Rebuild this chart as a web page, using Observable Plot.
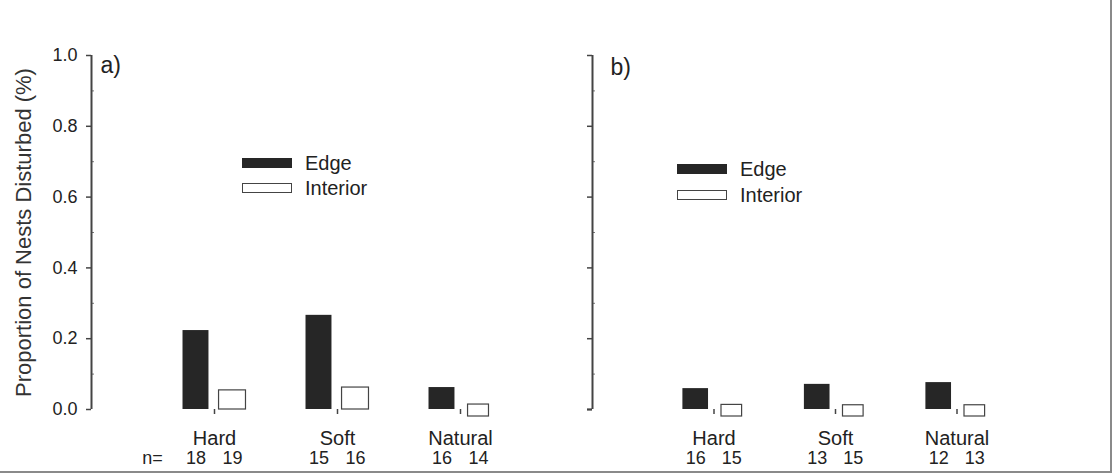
<!DOCTYPE html>
<html>
<head>
<meta charset="utf-8">
<script src="https://cdn.jsdelivr.net/npm/d3@7"></script>
<script src="https://cdn.jsdelivr.net/npm/@observablehq/plot@0.6"></script>
<style>
  body { margin: 0; background: #fff; font-family: Arial, "Liberation Sans", sans-serif; }
  #chart { position: relative; width: 1112px; height: 476px; overflow: hidden; background: #fff; }
  .panel { position: absolute; top: 0; }
  .swatch { position: absolute; width: 50px; height: 10px; box-sizing: border-box; }
  .swatch.edge { background: #262626; }
  .swatch.interior { background: #fff; border: 1px solid #444; }
  .key { position: absolute; font-size: 20px; color: #222; line-height: 20px; }
  .edge-line { position: absolute; background: #8a8a8a; }
</style>
</head>
<body>
<div id="chart"></div>
<script>
// Nest-disturbance proportions by nest site type, edge vs. interior plots
const sites = ["Hard", "Soft", "Natural"];

// a) first survey
const edgeA = [0.223, 0.266, 0.062];
const interiorA = [0.054, 0.062, 0.014];
const nEdgeA = [18, 15, 16];
const nInteriorA = [19, 16, 14];

// b) second survey
const edgeB = [0.059, 0.071, 0.076];
const interiorB = [0.013, 0.012, 0.012];
const nEdgeB = [16, 13, 12];
const nInteriorB = [15, 15, 13];

const yTicks = [0, 0.2, 0.4, 0.6, 0.8, 1.0];
const yMinor = [0.1, 0.3, 0.5, 0.7, 0.9];

const ink = "#222";
const axisInk = "#444";

function rows(values, counts, kind) {
  return values.map((v, i) => ({site: sites[i], pos: i + 1, value: v, n: counts[i], kind}));
}

// Bar placement within each site group (in x units, one unit per group)
const EDGE = [-0.256, -0.045];
const INTERIOR = [0.037, 0.256];
const center = d => d.pos + (d.kind === "Edge" ? (EDGE[0] + EDGE[1]) / 2 : (INTERIOR[0] + INTERIOR[1]) / 2);

function panel({edge, interior, tag, tagDx, tagDy, yLabels, width, marginLeft, marginRight, baseExtend}) {
  const all = edge.concat(interior);
  const small = interior.filter(d => d.value < 0.02);
  const regular = interior.filter(d => d.value >= 0.02);
  const marks = [
    Plot.axisY({
      ticks: yTicks,
      tickFormat: yLabels ? d3.format(".1f") : () => "",
      tickSize: 5, tickPadding: 9, fontSize: 18, stroke: axisInk, strokeWidth: 1.5, label: null
    }),
    // minor ticks on the inside of the axis
    Plot.ruleY(yMinor, {x1: 0, x2: 0, insetRight: -3, stroke: "#777", strokeWidth: 1}),
    Plot.axisX({
      ticks: [1, 2, 3],
      tickFormat: i => sites[i - 1],
      tickSize: 5, tickPadding: 16, fontSize: 20, stroke: axisInk, strokeWidth: 1.5, label: null
    }),
    Plot.ruleX([0], {stroke: axisInk, strokeWidth: 2}),
    Plot.ruleY([0], {x1: 0, insetLeft: -baseExtend, stroke: axisInk, strokeWidth: 2}),
    Plot.rectY(edge, {x1: d => d.pos + EDGE[0], x2: d => d.pos + EDGE[1], y: "value", fill: "#262626"}),
    Plot.rectY(regular, {x1: d => d.pos + INTERIOR[0], x2: d => d.pos + INTERIOR[1], y: "value",
      fill: "#fff", stroke: axisInk, strokeWidth: 1.2}),
    // near-zero proportions drawn as a flat box straddling the axis so they stay visible
    Plot.rectY(small, {x1: d => d.pos + INTERIOR[0], x2: d => d.pos + INTERIOR[1], y: "value",
      insetBottom: -7, insetLeft: 3, insetRight: 3, fill: "#fff", stroke: axisInk, strokeWidth: 1.2}),
    // sample sizes under each bar
    Plot.text(all, {x: center, text: d => String(d.n), frameAnchor: "bottom", dy: 49,
      lineAnchor: "middle", fontSize: 18, fill: ink}),
    Plot.text([tag], {frameAnchor: "top-left", dx: tagDx, dy: tagDy, lineAnchor: "top",
      textAnchor: "start", fontSize: 23, fill: ink})
  ];
  if (yLabels) {
    marks.push(
      Plot.text(["Proportion of Nests Disturbed (%)"], {frameAnchor: "left", rotate: -90, dx: -68,
        textAnchor: "middle", lineAnchor: "middle", fontSize: 22, fill: "#333"}),
      Plot.text(["n="], {frameAnchor: "bottom-left", dx: 61, dy: 49, lineAnchor: "middle",
        textAnchor: "middle", fontSize: 18, fill: ink})
    );
  }
  return Plot.plot({
    width, height: 476,
    marginLeft, marginRight, marginTop: 55, marginBottom: 67,
    x: {domain: [0, 4], axis: null, label: null},
    y: {domain: [0, 1], axis: null, label: null},
    style: {fontFamily: "Arial, 'Liberation Sans', sans-serif", color: ink, background: "transparent", overflow: "visible"},
    marks
  });
}

const chart = document.getElementById("chart");

const a = panel({
  edge: rows(edgeA, nEdgeA, "Edge"),
  interior: rows(interiorA, nInteriorA, "Interior"),
  tag: "a)", tagDx: 9, tagDy: 1, yLabels: true,
  width: 583, marginLeft: 91, marginRight: 0, baseExtend: 0
});
a.classList.add("panel");
a.style.left = "0px";
chart.appendChild(a);

const b = panel({
  edge: rows(edgeB, nEdgeB, "Edge"),
  interior: rows(interiorB, nInteriorB, "Interior"),
  tag: "b)", tagDx: 18, tagDy: 3, yLabels: false,
  width: 529, marginLeft: 9, marginRight: 34, baseExtend: 5
});
b.classList.add("panel");
b.style.left = "583px";
chart.appendChild(b);

// Legends
function legend(left, top, textLeft, gap) {
  const items = [["edge", "Edge"], ["interior", "Interior"]];
  items.forEach(([cls, label], i) => {
    const sw = document.createElement("div");
    sw.className = "swatch " + cls;
    sw.style.left = left + "px";
    sw.style.top = (top + i * gap) + "px";
    chart.appendChild(sw);
    const t = document.createElement("div");
    t.className = "key";
    t.textContent = label;
    t.style.left = textLeft + "px";
    t.style.top = (top + i * gap - 5) + "px";
    chart.appendChild(t);
  });
}
legend(242, 158, 305, 25);
legend(677, 164, 740, 26);

// outer frame lines
const bottomLine = document.createElement("div");
bottomLine.className = "edge-line";
Object.assign(bottomLine.style, {left: "0px", top: "471px", width: "1112px", height: "1.5px"});
chart.appendChild(bottomLine);
const rightLine = document.createElement("div");
rightLine.className = "edge-line";
Object.assign(rightLine.style, {left: "1110px", top: "0px", width: "1.5px", height: "472px"});
chart.appendChild(rightLine);
</script>
</body>
</html>
